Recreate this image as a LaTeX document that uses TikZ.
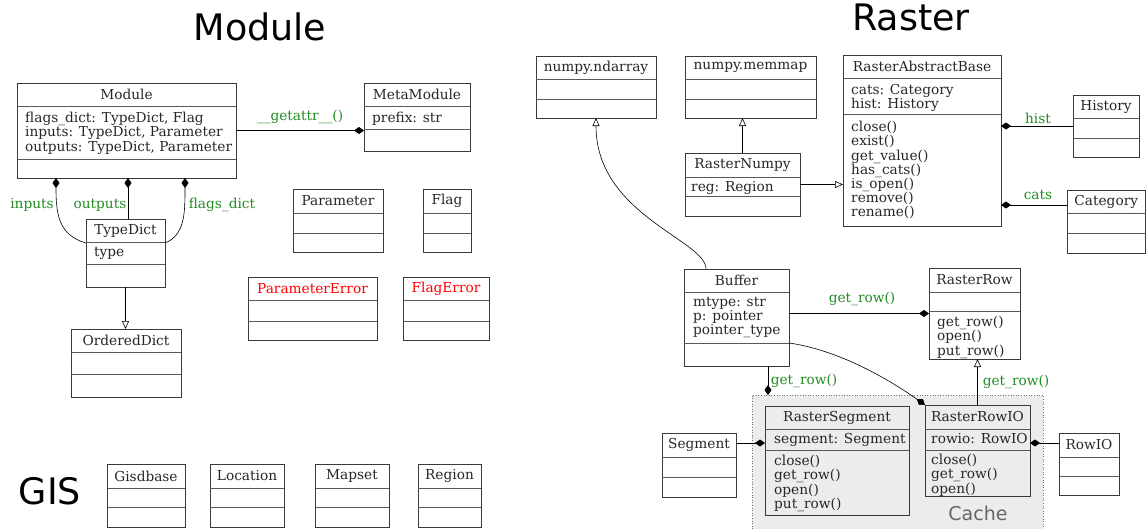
\documentclass[tikz,border=0pt]{standalone}
\usepackage{fontspec}
\setmainfont{DejaVu Serif}
\newfontfamily\titlefont{DejaVu Sans}
\usetikzlibrary{arrows.meta,calc}
\definecolor{lblgreen}{HTML}{228B22}
\definecolor{boxline}{HTML}{3A3A3A}
\definecolor{clusterfill}{HTML}{ECECEC}
\tikzset{
  classbox/.style={draw=boxline, line width=0.8pt, inner sep=0pt, outer sep=0pt, rectangle},
  sepline/.style={draw=boxline!85, line width=0.8pt},
  titletext/.style={font=\fontsize{13.7}{14.2}\selectfont, inner sep=0pt, text=black!85},
  membertext/.style={font=\fontsize{13.7}{14.2}\selectfont, inner sep=0pt, anchor=north west, align=left, text=black!85},
  lbl/.style={font=\fontsize{13.7}{14.2}\selectfont, inner sep=0pt, text=lblgreen},
  bigtitle/.style={font=\titlefont\fontsize{36.5}{40}\selectfont, inner sep=0pt},
  edge/.style={draw=black, line width=0.6pt},
  comp/.style={edge, -{Diamond[fill=black,length=10pt,width=7pt]}},
  inh/.style={edge, -{Triangle[open,fill=white,length=8pt,width=7pt]}},
  cluster/.style={draw=black!55, dotted, fill=clusterfill, line width=0.6pt, inner sep=0pt, outer sep=0pt, rectangle}
}
% #1 name #2 x1 #3 x2 #4 y1 #5 sep1 #6 sep2 #7 y2 #8 title
\newcommand\uclass[8]{%
  \node[classbox, minimum width={(#3-#2)*1pt}, minimum height={(#7-#4)*1pt}, anchor=north west] (#1) at (#2,#4) {};
  \draw[sepline] (#2,#5) -- (#3,#5);
  \draw[sepline] (#2,#6) -- (#3,#6);
  \node[titletext] (#1-t) at ({(#2+#3)/2},{(#4+#5)/2}) {#8};
}
\begin{document}
\begin{tikzpicture}[x=1pt,y={(0pt,-1pt)}]
\useasboundingbox (0,0) rectangle (1146,528);
% titles
\node[bigtitle] (tModule) at (260,27) {Module};
\node[bigtitle] (tRaster) at (911,17) {Raster};
\node[bigtitle] (tGIS) at (50,491) {GIS};
% cluster
\node[cluster, minimum width=291pt, minimum height=140pt, anchor=north west] (cache) at (752,395) {};
\node[font=\titlefont\fontsize{19}{22}\selectfont, text=black!60, inner sep=0pt] (cachelbl) at (978,513) {Cache};
% Module part
\uclass{Module}{17}{236}{83}{106}{159}{178}{Module}
\node[membertext] (Module-a) at (25,112) {flags\_dict: TypeDict, Flag\\inputs: TypeDict, Parameter\\outputs: TypeDict, Parameter};
\uclass{MetaModule}{364}{470}{83}{106}{129}{151}{MetaModule}
\node[membertext] (MetaModule-a) at (372,112) {prefix: str};
\uclass{TypeDict}{86}{165}{219}{242}{264}{287}{TypeDict}
\node[membertext] (TypeDict-a) at (94,247) {type};
\uclass{OrderedDict}{71}{181}{329}{352}{374}{397}{OrderedDict}
\uclass{Parameter}{293}{383}{189}{213}{233}{252}{Parameter}
\uclass{Flag}{423}{471}{189}{213}{233}{252}{Flag}
\uclass{ParameterError}{248}{377}{277}{300}{321}{340}{\color{red}ParameterError}
\uclass{FlagError}{403}{489}{277}{300}{321}{340}{\color{red}FlagError}
% GIS
\uclass{Gisdbase}{107}{185}{464}{488}{507}{527}{Gisdbase}
\uclass{Location}{210}{284}{464}{488}{507}{527}{Location}
\uclass{Mapset}{315}{389}{464}{488}{507}{527}{Mapset}
\uclass{Region}{418}{481}{464}{488}{507}{527}{Region}
% Raster
\uclass{ndarray}{536}{656}{56}{79}{99}{118}{numpy.ndarray}
\uclass{memmap}{685}{816}{56}{79}{99}{118}{numpy.memmap}
\uclass{RasterNumpy}{685}{800}{153}{177}{196}{216}{RasterNumpy}
\node[membertext] (RasterNumpy-a) at (691,181) {reg: Region};
\uclass{RAB}{843}{1001}{55}{78}{114}{226}{RasterAbstractBase}
\node[membertext] (RAB-a) at (851,84) {cats: Category\\hist: History};
\node[membertext] (RAB-m) at (851,121) {close()\\exist()\\get\_value()\\has\_cats()\\is\_open()\\remove()\\rename()};
\uclass{History}{1073}{1139}{95}{118}{138}{157}{History}
\uclass{Category}{1067}{1145.5}{190}{213}{233}{253}{Category}
\uclass{Buffer}{684}{789}{269}{292}{343}{366}{Buffer}
\node[membertext] (Buffer-a) at (693,297) {mtype: str\\p: pointer\\pointer\_type};
\uclass{RasterRow}{929}{1020}{268}{292}{311}{359}{RasterRow}
\node[membertext] (RasterRow-m) at (937,316) {get\_row()\\open()\\put\_row()};
\uclass{RasterSegment}{765}{909}{406}{429}{450}{515}{RasterSegment}
\node[membertext] (RasterSegment-a) at (774,433) {segment: Segment};
\node[membertext] (RasterSegment-m) at (774,455) {close()\\get\_row()\\open()\\put\_row()};
\uclass{RasterRowIO}{925}{1030}{405}{429}{450}{496}{RasterRowIO}
\node[membertext] (RasterRowIO-a) at (931,433) {rowio: RowIO};
\node[membertext] (RasterRowIO-m) at (931,454) {close()\\get\_row()\\open()};
\uclass{Segment}{662}{736}{433}{457}{477}{497}{Segment}
\uclass{RowIO}{1059}{1119}{433}{457}{476}{495}{RowIO}
% ---- edges: Module
\draw[comp] (Module.east) -- (Module.east -| MetaModule.west);
\node[lbl] (l-getattr) at (300,117) {\_\_getattr\_\_()};
\coordinate (tdin) at ($(TypeDict.north west)+(0,24)$);
\coordinate (modin) at ($(Module.south west)+(39,0)$);
\draw[comp] (tdin) .. controls ($(tdin)+(-28,-8)$) and ($(modin)+(0,35)$) .. (modin);
\node[lbl] (l-inputs) at (32,205) {inputs};
\coordinate (tdout) at ($(TypeDict.north west)+(42,0)$);
\draw[comp] (tdout) -- (tdout |- Module.south);
\node[lbl] (l-outputs) at (100,205) {outputs};
\coordinate (tdfl) at ($(TypeDict.north east)+(0,24)$);
\coordinate (modfl) at ($(Module.south west)+(168,0)$);
\draw[comp] (tdfl) .. controls ($(tdfl)+(20,-8)$) and ($(modfl)+(0,35)$) .. (modfl);
\node[lbl] (l-flags) at (222,205) {flags\_dict};
\draw[inh] (TypeDict.south) -- (TypeDict.south |- OrderedDict.north);
% ---- edges: Raster
\draw[inh] (RasterNumpy.north) -- (RasterNumpy.north |- memmap.south);
\draw[inh] (RasterNumpy.east) -- (RasterNumpy.east -| RAB.west);
\coordinate (buft) at ($(Buffer.north west)+(22,0)$);
\draw[inh] (buft) .. controls ($(buft)+(0,-29)$) and ($(ndarray.south)+(0,97)$) .. (ndarray.south);
\draw[comp] (History.west) -- (History.west -| RAB.east);
\node[lbl] (l-hist) at (1038,118) {hist};
\coordinate (catl) at ($(Category.north west)+(0,15)$);
\draw[comp] (catl) -- (catl -| RAB.east);
\node[lbl] (l-cats) at (1038,195) {cats};
\draw[comp] (Buffer.east |- RasterRow.west) -- (RasterRow.west);
\node[lbl] (l-getrow1) at (862,299) {get\_row()};
\coordinate (bufr) at ($(Buffer.north east)+(0,74)$);
\draw[comp] (bufr) .. controls ($(bufr)+(50,7)$) and ($(RasterRowIO.north west)+(-35,-25)$) .. (RasterRowIO.north west);
\coordinate (bufc) at ($(Buffer.south west)+(84,0)$);
\draw[comp] (bufc) -- (bufc |- cache.north);
\node[lbl] (l-getrow2) at (804,381) {get\_row()};
\draw[inh] (RasterRowIO.north) -- (RasterRowIO.north |- RasterRow.south);
\node[lbl] (l-getrow3) at (1016,382) {get\_row()};
\coordinate (segr) at ($(Segment.north east)+(0,10)$);
\draw[comp] (segr) -- (segr -| RasterSegment.west);
\coordinate (rowl) at ($(RowIO.north west)+(0,10)$);
\draw[comp] (rowl) -- (rowl -| RasterRowIO.east);
\end{tikzpicture}
\end{document}
